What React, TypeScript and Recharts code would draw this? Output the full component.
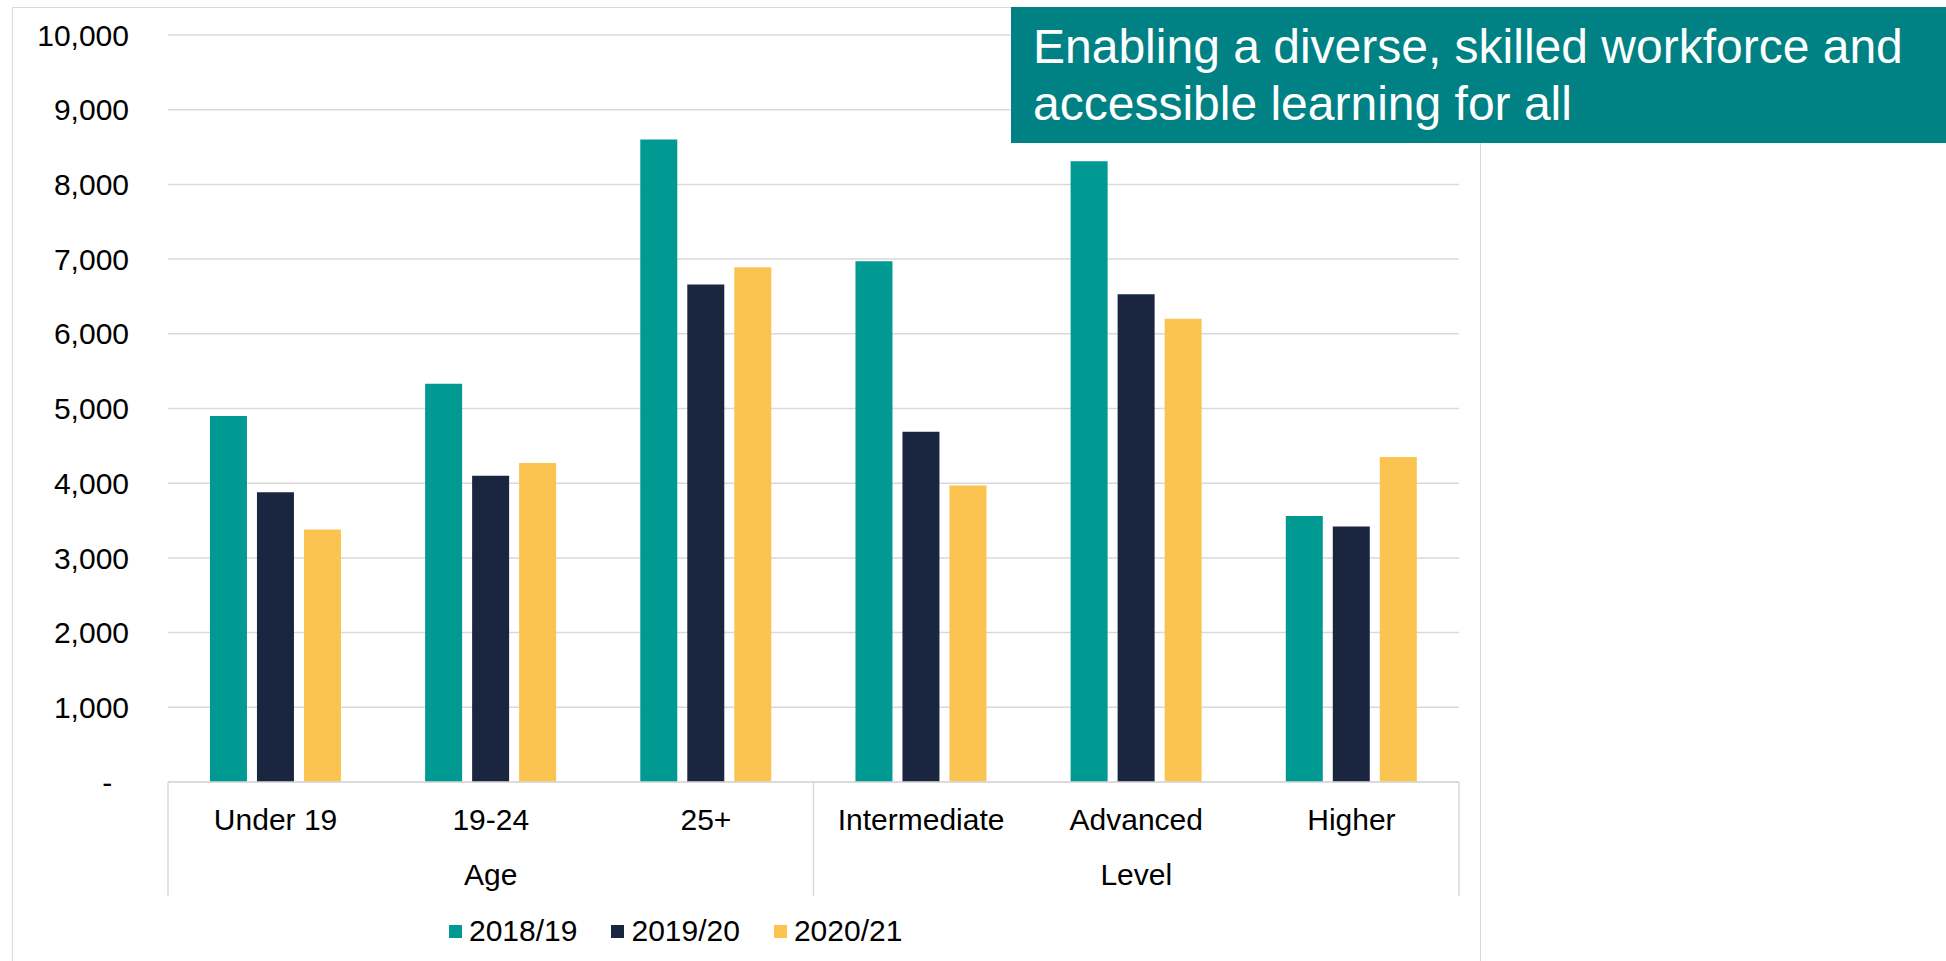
import { BarChart, Bar, XAxis, YAxis, CartesianGrid, Legend } from "recharts";

const categories = ["Under 19", "19-24", "25+", "Intermediate", "Advanced", "Higher"];
const groups = ["Age", "Age", "Age", "Level", "Level", "Level"];
const values1819 = [4900, 5330, 8600, 6970, 8310, 3560];
const values1920 = [3880, 4100, 6660, 4690, 6530, 3420];
const values2021 = [3380, 4270, 6890, 3970, 6200, 4350];
const seriesNames = ["2018/19", "2019/20", "2020/21"];
const seriesColors = ["#009A93", "#1A2640", "#FBC350"];
const yTicks = [0, 1000, 2000, 3000, 4000, 5000, 6000, 7000, 8000, 9000, 10000];
const titleLines = ["Enabling a diverse, skilled workforce and", "accessible learning for all"];

const data = categories.map((cat, i) => ({
  cat,
  group: groups[i],
  a: values1819[i],
  b: values1920[i],
  c: values2021[i],
}));

const FONT = '"Liberation Sans", Arial, sans-serif';
const GRID = "#d9d9d9";
const AXIS_Y = 782;
const SEP_BOTTOM = 896;

// middle category of each group carries the group label
const groupMid = new Set<number>();
groups.forEach((g, i) => {
  const idx = groups.map((x, j) => (x === g ? j : -1)).filter((j) => j >= 0);
  if (idx[Math.floor(idx.length / 2)] === i) groupMid.add(i);
});

const CategoryTick = (props: any) => {
  const { x, y, payload } = props;
  const i = payload.index;
  const half = payload.offset ?? 107.6;
  const lines: number[] = [];
  if (i === 0 || groups[i] !== groups[i - 1]) lines.push(x - half);
  if (i === categories.length - 1) lines.push(x + half);
  return (
    <g>
      {lines.map((lx, k) => (
        <line key={k} x1={lx} x2={lx} y1={AXIS_Y} y2={SEP_BOTTOM} stroke={GRID} strokeWidth={1.5} />
      ))}
      <text x={x} y={y} dy={21.5} textAnchor="middle" fill="#000" fontSize={30} fontFamily={FONT}>
        {payload.value}
      </text>
    </g>
  );
};

const GroupTick = (props: any) => {
  const { x, y, payload } = props;
  if (!groupMid.has(payload.index)) return <g />;
  return (
    <text x={x} y={y} dy={21.5} textAnchor="middle" fill="#000" fontSize={30} fontFamily={FONT}>
      {payload.value}
    </text>
  );
};

const renderLegend = (props: any) => {
  const items = props.payload || [];
  return (
    <div style={{ display: "flex", alignItems: "center", fontFamily: FONT, fontSize: 30, color: "#000", lineHeight: "34px" }}>
      {items.map((it: any, i: number) => (
        <span key={i} style={{ display: "flex", alignItems: "center", marginRight: 34 }}>
          <span style={{ width: 13, height: 13, background: it.color, marginRight: 7, display: "inline-block" }} />
          {it.value}
        </span>
      ))}
    </div>
  );
};

export default function App() {
  return (
    <div style={{ position: "absolute", left: 0, top: 0, width: 1946, height: 961, background: "#fff", overflow: "hidden" }}>
      <div
        style={{
          position: "absolute",
          left: 12,
          top: 7,
          width: 1467,
          height: 1000,
          border: `1.5px solid ${GRID}`,
        }}
      />
      <BarChart
        width={1946}
        height={961}
        data={data}
        margin={{ top: 35, right: 487, left: 18, bottom: 59 }}
        barCategoryGap="19.5%"
        barGap={10}
        style={{ position: "absolute", left: 0, top: 0 }}
      >
        <CartesianGrid vertical={false} stroke={GRID} strokeWidth={1.5} />
        <XAxis
          dataKey="cat"
          height={60}
          axisLine={{ stroke: GRID, strokeWidth: 1.5 }}
          tickLine={false}
          tickSize={0}
          tickMargin={26}
          interval={0}
          tick={<CategoryTick />}
        />
        <XAxis
          dataKey="group"
          xAxisId="group"
          height={60}
          axisLine={false}
          tickLine={false}
          tickSize={0}
          tickMargin={21}
          interval={0}
          tick={<GroupTick />}
        />
        <YAxis
          width={150}
          domain={[0, 10000]}
          ticks={yTicks}
          axisLine={false}
          tickLine={false}
          tickSize={0}
          tickMargin={39}
          tick={{ fill: "#000", fontSize: 30, fontFamily: FONT }}
          tickFormatter={(v: number) => (v === 0 ? "-\u00a0\u00a0" : v.toLocaleString("en-US"))}
        />
        <Legend
          layout="horizontal"
          verticalAlign="middle"
          align="center"
          content={renderLegend}
          wrapperStyle={{ position: "absolute", left: 449, top: 914, width: 600, height: 34 }}
        />
        <Bar dataKey="a" name={seriesNames[0]} fill={seriesColors[0]} isAnimationActive={false} />
        <Bar dataKey="b" name={seriesNames[1]} fill={seriesColors[1]} isAnimationActive={false} />
        <Bar dataKey="c" name={seriesNames[2]} fill={seriesColors[2]} isAnimationActive={false} />
      </BarChart>
      <div
        style={{
          position: "absolute",
          left: 1011,
          top: 7,
          width: 935,
          height: 136,
          background: "#008285",
          color: "#fff",
          fontFamily: FONT,
          fontSize: 48,
          lineHeight: "57px",
          paddingLeft: 22,
          paddingTop: 11,
          boxSizing: "border-box",
          whiteSpace: "nowrap",
        }}
      >
        {titleLines.map((t, i) => (
          <div key={i}>{t}</div>
        ))}
      </div>
    </div>
  );
}
